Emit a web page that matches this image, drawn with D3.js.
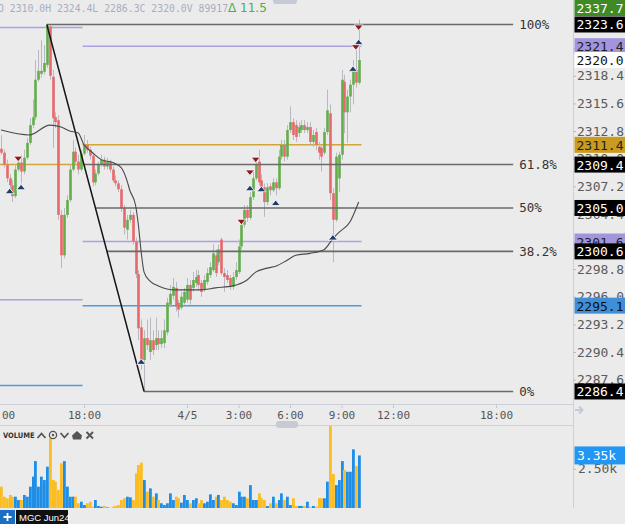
<!DOCTYPE html>
<html>
<head>
<meta charset="utf-8">
<script src="https://cdn.jsdelivr.net/npm/d3@7"></script>
<style>
  html, body { margin: 0; padding: 0; background: #ebebeb; }
  svg { display: block; }
</style>
</head>
<body>
<svg id="chart" width="625" height="524"></svg>
<script>
// 10 minute bars, index 0 = 4/4 18:00
const firstBar = -29;
const opens = [2311.0,2310.6,2309.4,2308.0,2307.3,2306.2,2308.9,2309.6,2308.7,2310.1,2311.6,2313.4,2314.2,2318.0,2318.6,2318.8,2319.5,2323.4,2318.3,2314.2,2313.9,2304.3,2300.2,2304.3,2305.8,2308.9,2310.7,2309.7,2308.9,
  2310.5,2311.4,2310.9,2310.3,2307.6,2308.5,2309.4,2309.9,2309.2,2309.7,2308.9,2307.8,2307.5,2306.9,2305.0,2302.8,2303.8,2304.3,2301.6,2298.3,2292.9,2289.6,2291.8,2290.4,2291.6,2291.1,2291.8,2291.2,2291.3,
  2292.4,2295.2,2296.1,2296.9,2295.4,2294.9,2295.4,2295.7,2297.2,2296.9,2297.4,2298.2,2297.4,2296.7,2297.5,2298.2,2298.7,2300.2,2299.5,2301.8,2298.4,2298.2,2297.9,2297.0,2298.0,2298.5,2301.1,2303.3,2304.8,
  2304.0,2306.1,2308.0,2309.7,2307.8,2307.1,2305.6,2307.2,2306.8,2307.6,2307.0,2310.2,2311.4,2310.2,2312.9,2313.7,2313.4,2312.6,2312.9,2313.4,2312.9,2313.2,2311.7,2312.7,2311.2,2311.1,2310.6,2312.7,2314.6,
  2306.5,2303.8,2308.0,2310.4,2317.8,2314.7,2316.3,2317.5,2319.0,2317.7];
const highs = [2312.4,2310.9,2309.9,2308.4,2307.8,2309.4,2310.1,2310.4,2310.9,2312.1,2314.1,2316.0,2320.0,2321.0,2322.0,2321.5,2323.6,2323.5,2319.0,2314.7,2314.4,2304.8,2305.0,2306.3,2309.4,2311.9,2311.1,2310.4,2310.9,
  2312.4,2311.9,2311.2,2310.6,2308.9,2309.7,2310.4,2310.2,2310.1,2309.9,2309.2,2308.3,2307.8,2307.3,2305.3,2304.3,2304.8,2304.6,2302.0,2298.7,2293.7,2292.6,2293.7,2293.9,2292.6,2293.9,2292.6,2292.6,2293.7,
  2295.9,2297.2,2297.9,2297.5,2295.7,2296.5,2296.9,2297.9,2297.7,2298.5,2298.7,2298.7,2297.7,2298.2,2298.9,2299.5,2301.3,2300.8,2301.3,2302.0,2298.9,2298.7,2298.2,2298.5,2299.5,2301.8,2303.8,2305.3,2305.3,
  2306.6,2308.7,2309.9,2310.9,2308.4,2307.5,2307.5,2307.5,2308.0,2308.0,2310.9,2311.9,2311.9,2313.4,2315.3,2314.1,2313.9,2313.7,2313.9,2313.9,2313.7,2313.7,2312.9,2313.1,2311.7,2311.4,2313.1,2317.0,2315.5,
  2307.0,2310.6,2310.7,2319.0,2318.5,2317.0,2318.0,2320.0,2321.0,2324.1];
const lows = [2310.4,2309.1,2307.6,2306.8,2305.6,2306.0,2308.7,2307.5,2308.4,2309.9,2311.4,2313.1,2313.9,2317.8,2318.2,2318.5,2319.2,2318.0,2311.1,2313.1,2303.8,2298.9,2299.9,2304.0,2305.6,2308.7,2309.4,2308.4,2308.7,
  2310.3,2310.6,2309.9,2307.2,2307.3,2308.3,2309.2,2308.9,2308.9,2308.6,2307.6,2307.2,2306.6,2304.6,2302.3,2301.8,2303.5,2301.3,2297.9,2291.6,2288.6,2286.4,2290.6,2289.6,2290.1,2290.6,2290.6,2290.8,2290.8,
  2292.1,2294.9,2295.7,2294.5,2293.9,2294.7,2295.2,2295.4,2295.2,2296.5,2297.0,2296.7,2296.0,2296.5,2297.2,2297.9,2298.5,2298.0,2299.2,2298.2,2296.5,2297.4,2296.7,2296.7,2297.7,2298.3,2300.8,2303.0,2303.6,
  2303.8,2305.8,2307.8,2307.3,2306.6,2304.1,2305.3,2306.3,2306.6,2306.3,2306.8,2309.9,2309.7,2309.9,2312.6,2311.9,2311.7,2312.2,2312.6,2312.6,2312.6,2311.4,2311.2,2310.9,2309.9,2308.7,2310.4,2312.4,2305.8,
  2299.5,2303.6,2306.6,2309.9,2312.6,2311.6,2314.7,2315.5,2317.2,2317.5];
const closes = [2310.6,2309.4,2308.0,2307.3,2306.2,2308.9,2309.6,2308.7,2310.1,2311.6,2313.4,2314.2,2318.0,2318.9,2318.9,2319.7,2323.5,2318.4,2314.1,2313.7,2304.3,2300.2,2304.3,2305.8,2308.9,2310.7,2309.7,2308.9,2310.5,
  2311.4,2310.9,2310.3,2307.6,2308.5,2309.4,2309.9,2309.2,2309.7,2308.9,2307.8,2307.5,2306.9,2305.0,2303.0,2303.8,2304.3,2301.6,2298.3,2292.8,2289.6,2291.8,2291.1,2291.6,2290.6,2291.8,2291.2,2291.8,2292.6,
  2295.4,2296.3,2297.0,2295.0,2294.7,2296.0,2296.5,2297.2,2295.7,2297.7,2298.0,2297.2,2296.5,2297.7,2298.4,2299.0,2300.4,2298.4,2300.8,2298.4,2298.0,2297.7,2297.0,2298.0,2298.7,2301.1,2303.3,2304.8,2304.0,
  2306.1,2308.0,2309.4,2307.6,2307.1,2305.6,2307.1,2306.8,2307.6,2307.0,2310.2,2311.4,2310.2,2312.9,2313.7,2312.4,2312.2,2313.2,2313.4,2312.9,2313.2,2311.7,2312.4,2311.4,2310.6,2310.2,2312.7,2314.9,2306.5,
  2303.8,2310.2,2310.4,2318.0,2314.7,2316.3,2317.5,2319.0,2317.7,2320.0];
const volumes = [1360,720,620,830,720,720,510,510,830,720,1360,2000,2990,1360,2000,1780,2630,4440,1780,1680,1150,2850,2990,1360,720,720,720,300,400,
  190,300,400,80,510,130,80,130,40,20,80,130,190,510,620,720,680,510,2210,2740,2890,1780,1040,1250,720,930,510,300,190,
  300,930,510,720,620,340,830,510,300,510,620,300,510,300,400,870,510,720,830,510,720,510,400,300,190,1040,720,720,620,
  1460,510,510,930,620,510,130,300,720,300,510,930,510,720,190,620,130,130,130,130,400,80,130,80,620,620,620,1680,5290,
  2170,1460,1780,2990,2420,2310,2310,3740,2680,3350];

// moving average, read at these bars
const maIdx = [-29,-19,-12,-8,-5,-2,0,1,3,6,10,13,15,16,18,19,20,21,23,26,32,41,46,52,57,60,64,67,71,74,79,84,87,89,93,96];
const maVal = [2312.9,2312.4,2313.4,2313.2,2312.8,2312.6,2311.4,2311.1,2310.6,2309.9,2309.6,2309.1,2307.8,2306.8,2305.3,2303.3,2300.5,2298.5,2297.6,2297.1,
  2296.7,2296.7,2296.9,2297.1,2297.7,2298.5,2298.9,2299.1,2299.7,2300.2,2300.4,2300.8,2301.9,2302.5,2303.6,2305.6];

// signals
const buyIdx = [-26,-22,20,58,62,67,87,94,96];
const buyPx = [2306.7,2307.1,2289.4,2307.0,2306.9,2305.5,2302.0,2319.1,2321.8];
const sellIdx = [-23,55,58,60,95,96];
const sellPx = [2310.0,2303.6,2308.6,2309.9,2321.3,2323.3];

// fibonacci retracement
const fibHighIdx = -13, fibLowIdx = 21, fibEndIdx = 150;
const fibLabels = ["100%","61.8%","50%","38.2%","0%"];
const fibPrices = [2323.6,2309.4,2305.0,2300.6,2286.4];

// session levels (previous / current)
const levelKinds = ["high","low","mid","settle"];
const prevLevels = [2323.3,2295.7,2309.4,2287.0];
const curLevels = [2321.4,2301.6,2311.4,2295.1];
const sessionStart = -0.5, sessionEnd = 97;

const priceTicks = [2321.2,2318.4,2315.6,2312.8,2310.0,2307.2,2304.4,2301.6,2298.8,2296.0,2293.2,2290.4,2287.6];
const timeTickIdx = [-30,0,36,54,72,90,108,144];
const timeTickLabels = ["12:00","18:00","4/5","3:00","6:00","9:00","12:00","18:00"];
const volTicks = [2500];

// axis flags (drawn in this order)
const flagPrices = [2337.7,2323.6,2321.4,2320.0,2311.4,2309.4,2305.0,2301.6,2300.6,2295.1,2286.4];
const flagKinds = ["up","fib","high","last","mid","fib","fib","low","fib","settle","fib"];

const hdrKeys = ["O","H","L","C","V"];
const hdrVals = ["2310.0","2324.4","2286.3","2320.0","89917"];
const hdrChange = "Δ 11.5";
const volLast = "3.35k";
const contract = "MGC Jun24";

const W = 625, H = 524, axisX = 573, priceBottom = 404, volTop = 425, volBottom = 508;
const mono = "'DejaVu Sans Mono', monospace";
const kindColor = {high: "#aba2e2", low: "#aba2e2", mid: "#d2a63a", settle: "#4c9ce0"};
const flagStyle = {
    up: ["#3f8a25", "#fff"], fib: ["#000", "#fff"], high: ["#a195de", "#222"], low: ["#a195de", "#222"],
    last: ["#fff", "#111"], mid: ["#c99b1e", "#222"], settle: ["#3f8fd8", "#111"]
};

const svg = d3.select("#chart");
svg.append("rect").attr("width", W).attr("height", H).attr("fill", "#ebebeb");

const x = d3.scaleLinear().domain([0, 144]).range([84, 496]);
const y = d3.scaleLinear().domain([2290.4, 2320.0]).range([352, 60]);
const yv = d3.scaleLinear().domain([0, 5290]).range([volBottom, volTop]);

const bars = opens.map((o, k) => ({
    i: firstBar + k, o: o, h: highs[k], l: lows[k], c: closes[k], v: volumes[k]
}));

// session level lines
const levels = svg.append("g");
function drawLevels(vals, from, to) {
    levels.selectAll(null)
        .data(vals)
        .enter().append("line")
        .attr("x1", x(from)).attr("x2", x(to))
        .attr("y1", d => y(d)).attr("y2", d => y(d))
        .attr("stroke", (d, k) => kindColor[levelKinds[k]])
        .attr("stroke-width", 1.5);
}
drawLevels(prevLevels, -31, sessionStart);
drawLevels(curLevels, sessionStart, sessionEnd);

// candles
const candles = svg.append("g");
candles.selectAll("line")
    .data(bars)
    .enter().append("line")
    .attr("x1", d => Math.round(x(d.i)) + 0.5).attr("x2", d => Math.round(x(d.i)) + 0.5)
    .attr("y1", d => y(d.h)).attr("y2", d => y(d.l))
    .attr("stroke", "#b7b8c0").attr("stroke-width", 1);
candles.selectAll("rect")
    .data(bars)
    .enter().append("rect")
    .attr("x", d => Math.round(x(d.i)) - 0.8)
    .attr("width", 2.6)
    .attr("y", d => y(Math.max(d.o, d.c)))
    .attr("height", d => Math.max(1, Math.abs(y(d.o) - y(d.c))))
    .attr("fill", d => d.c >= d.o ? "#63ad4b" : "#e6686b");

// fibonacci lines
const fx0 = x(fibHighIdx), fx1 = x(fibLowIdx);
const fy0 = y(fibPrices[0]), fy1 = y(fibPrices[fibPrices.length - 1]);
const fib = svg.append("g");
fib.selectAll("line")
    .data(fibPrices)
    .enter().append("line")
    .attr("x1", d => fx0 + (y(d) - fy0) / (fy1 - fy0) * (fx1 - fx0))
    .attr("x2", x(fibEndIdx))
    .attr("y1", d => y(d)).attr("y2", d => y(d))
    .attr("stroke", "#6a6a6a").attr("stroke-width", 1.6);
fib.selectAll("text")
    .data(fibPrices)
    .enter().append("text")
    .attr("x", x(fibEndIdx) + 6)
    .attr("y", d => y(d) + 4.5)
    .attr("font-family", mono).attr("font-size", "12.5px").attr("fill", "#333")
    .text((d, k) => fibLabels[k]);
svg.append("line")
    .attr("x1", fx0).attr("y1", fy0).attr("x2", fx1).attr("y2", fy1)
    .attr("stroke", "#151515").attr("stroke-width", 1.5);

// moving average
svg.append("path")
    .datum(maIdx.map((d, k) => [d, maVal[k]]))
    .attr("fill", "none").attr("stroke", "#4a4a4a").attr("stroke-width", 1.1)
    .attr("d", d3.line().x(d => x(d[0])).y(d => y(d[1])).curve(d3.curveMonotoneX));

// signal markers
const marks = svg.append("g");
marks.selectAll(".buy")
    .data(buyIdx)
    .enter().append("path")
    .attr("d", (d, k) => {
        const cx = x(d), cy = y(buyPx[k]);
        return `M${cx - 4.5},${cy + 2.5}L${cx},${cy - 3}L${cx + 4.5},${cy + 2.5}Z`;
    })
    .attr("fill", "#1d3d6b").attr("stroke", "#fff").attr("stroke-width", 0.8);
marks.selectAll(".sell")
    .data(sellIdx)
    .enter().append("path")
    .attr("d", (d, k) => {
        const cx = x(d), cy = y(sellPx[k]);
        return `M${cx - 4.5},${cy - 2.5}L${cx},${cy + 3}L${cx + 4.5},${cy - 2.5}Z`;
    })
    .attr("fill", "#8c1a1a").attr("stroke", "#fff").attr("stroke-width", 0.8);

// volume
svg.append("g").selectAll("rect")
    .data(bars)
    .enter().append("rect")
    .attr("x", d => Math.round(x(d.i)) - 1)
    .attr("width", 2.8)
    .attr("y", d => yv(d.v))
    .attr("height", d => volBottom - yv(d.v))
    .attr("fill", d => d.c >= d.o ? "#1f8ee6" : "#fbbd22");

// frame lines
const frame = "#cbd0da";
svg.append("line").attr("x1", 0).attr("x2", axisX).attr("y1", priceBottom + 0.5).attr("y2", priceBottom + 0.5).attr("stroke", frame);
svg.append("line").attr("x1", 0).attr("x2", axisX).attr("y1", volTop + 0.5).attr("y2", volTop + 0.5).attr("stroke", frame);
svg.append("line").attr("x1", axisX + 0.5).attr("x2", axisX + 0.5).attr("y1", 0).attr("y2", volBottom).attr("stroke", frame);

// price axis
const pAxis = svg.append("g")
    .attr("transform", `translate(${axisX},0)`)
    .call(d3.axisRight(y).tickValues(priceTicks).tickFormat(d3.format(".1f")).tickSize(3).tickPadding(1));
pAxis.select(".domain").remove();
pAxis.selectAll("line").attr("stroke", "#b8bcc6");
pAxis.selectAll("text").attr("font-family", mono).attr("font-size", "13px").attr("fill", "#5a5a5a");

// axis flags
const flags = svg.append("g");
flagPrices.forEach((p, k) => {
    const st = flagStyle[flagKinds[k]];
    const cy = Math.max(8, y(p));
    flags.append("rect").attr("x", axisX + 1.5).attr("y", cy - 8).attr("width", W - axisX).attr("height", 16).attr("fill", st[0]);
    flags.append("text").attr("x", axisX + 3.5).attr("y", cy + 5)
        .attr("font-family", mono).attr("font-size", "13px").attr("fill", st[1])
        .text(d3.format(".1f")(p));
});

// time axis
const tAxis = svg.append("g")
    .attr("transform", `translate(0,${priceBottom})`)
    .call(d3.axisBottom(x).tickValues(timeTickIdx).tickFormat((d, k) => timeTickLabels[k]).tickSize(4).tickPadding(3));
tAxis.select(".domain").remove();
tAxis.selectAll("line").attr("stroke", "#c4c8d2");
tAxis.selectAll("text").attr("font-family", mono).attr("font-size", "11px").attr("fill", "#555");
svg.append("path").attr("d", "M575,410h7M579,406.5l3.5,3.5l-3.5,3.5")
    .attr("stroke", "#c2c9d8").attr("stroke-width", 2).attr("fill", "none");

// volume axis
const vAxis = svg.append("g")
    .attr("transform", `translate(${axisX},0)`)
    .call(d3.axisRight(yv).tickValues(volTicks).tickFormat(d => d3.format(".2f")(d / 1000) + "k").tickSize(3).tickPadding(2));
vAxis.select(".domain").remove();
vAxis.selectAll("line").attr("stroke", "#b8bcc6");
vAxis.selectAll("text").attr("font-family", mono).attr("font-size", "13px").attr("fill", "#5a5a5a");
const lastV = volumes[volumes.length - 1];
svg.append("rect").attr("x", axisX + 1.5).attr("y", yv(lastV) - 9).attr("width", W - axisX).attr("height", 18).attr("fill", "#2196f3");
svg.append("text").attr("x", axisX + 4).attr("y", yv(lastV) + 5)
    .attr("font-family", mono).attr("font-size", "13px").attr("fill", "#fff").text(volLast);

// volume pane header
svg.append("text").attr("x", 3).attr("y", 438)
    .attr("font-family", "'DejaVu Sans Condensed', 'DejaVu Sans', sans-serif").attr("font-weight", "bold")
    .attr("font-size", "7.5px").attr("fill", "#333").text("VOLUME");
const ic = svg.append("g").attr("stroke", "#555").attr("fill", "none").attr("stroke-width", 1.8);
ic.append("path").attr("d", "M37.5,438L41.5,433.5L45.5,438");
ic.append("circle").attr("cx", 53).attr("cy", 435).attr("r", 3.6).attr("stroke-width", 1.3);
ic.append("circle").attr("cx", 53).attr("cy", 435).attr("r", 1.2).attr("fill", "#555").attr("stroke", "none");
ic.append("path").attr("d", "M60.5,433L64.5,437.5L68.5,433");
ic.append("path").attr("d", "M72,435.5L77,431L82,435.5L81,439.5L73,439.5Z").attr("fill", "#555").attr("stroke", "none");
ic.append("path").attr("d", "M86.5,432L93,438.5M93,432L86.5,438.5");

// pane handles
svg.append("rect").attr("x", 273).attr("y", -4).attr("width", 24).attr("height", 8).attr("rx", 3).attr("fill", "#c6cad4");
svg.append("rect").attr("x", 276).attr("y", 421).attr("width", 22).attr("height", 7).attr("rx", 3).attr("fill", "#c6cad4");

// header
const hdr = svg.append("text").attr("x", -2).attr("y", 11.5)
    .attr("font-family", mono).attr("font-size", "9.8px").attr("fill", "#a9adbf");
hdr.append("tspan").text(hdrKeys.map((k, i) => k + " " + hdrVals[i]).join(""));
hdr.append("tspan").attr("font-family", "'DejaVu Sans', sans-serif").attr("font-size", "12px")
    .attr("fill", "#4cae4c").text(hdrChange);

// bottom tab
svg.append("rect").attr("x", 0).attr("y", 510).attr("width", 15).attr("height", 14).attr("fill", "#1b6fc2");
svg.append("path").attr("d", "M7.5,513v8M3.5,517h8").attr("stroke", "#fff").attr("stroke-width", 1.8);
svg.append("rect").attr("x", 16).attr("y", 510).attr("width", 52).attr("height", 14).attr("fill", "#111");
svg.append("text").attr("x", 19).attr("y", 520.5)
    .attr("font-family", "'Liberation Sans', Arial, sans-serif").attr("font-size", "9.5px")
    .attr("fill", "#fff").text(contract);
</script>
</body>
</html>
